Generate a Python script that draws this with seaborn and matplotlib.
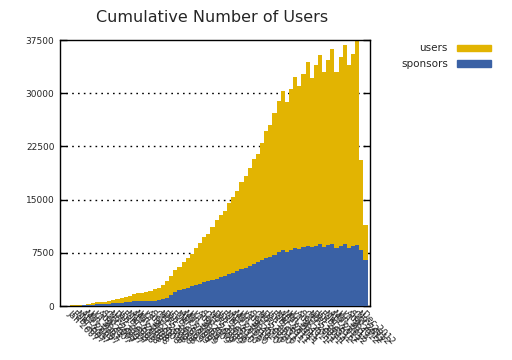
import matplotlib
matplotlib.use("Agg")
from matplotlib import pyplot as plt
from matplotlib.patches import Patch
import numpy as np
import pandas as pd
import seaborn as sns

# monthly tick labels (72 bars)
months = ['Jan', 'Feb', 'Mar', 'Apr', 'May', 'Jun',
          'Jul', 'Aug', 'Sep', 'Oct', 'Nov', 'Dec']
years = [2007, 2008, 2009, 2010, 2011, 2012]
labels = [f"{m} {y}" for y in years for m in months]

users = [141, 141, 141, 150, 280, 376, 517, 517, 517, 658,
         800, 940, 1081, 1222, 1363, 1645, 1786, 1786, 1927, 2068,
         2350, 2491, 2914, 3478, 4183, 5029, 5452, 6157, 6721, 7285,
         8131, 8836, 9682, 10105, 11092, 12079, 12784, 13348, 14476, 15322,
         16168, 17437, 18283, 19500, 20770, 21480, 22983, 24675, 25521, 27213,
         28905, 30315, 28764, 30597, 32289, 31020, 32712, 34404, 32148, 33981,
         35391, 32994, 34686, 36237, 32994, 35109, 36801, 33981, 35532, 37500,
         20586, 11374]

sponsors = [0, 0, 0, 150, 140, 94, 235, 235, 235, 235,
            376, 376, 376, 517, 517, 658, 658, 658, 658, 658,
            658, 800, 940, 1081, 1504, 1927, 2209, 2350, 2491, 2773,
            2914, 3055, 3337, 3478, 3619, 3760, 4042, 4183, 4465, 4606,
            4888, 5170, 5311, 5593, 5875, 6157, 6439, 6721, 6862, 7144,
            7567, 7849, 7567, 7849, 8131, 7990, 8272, 8413, 8272, 8413,
            8695, 8272, 8554, 8695, 8131, 8413, 8695, 8131, 8413, 8554,
            7849, 6439]

yticks = [0, 7500, 15000, 22500, 30000, 37500]

user_color = '#e2b402'
sponsor_color = '#3a61a5'

df = pd.DataFrame({'label': labels, 'users': users, 'sponsors': sponsors})

sns.set_style('white')
plt.rcParams['font.family'] = ['DejaVu Sans']

fig = plt.figure(figsize=(5.12, 3.6), dpi=100)
ax = fig.add_axes([60 / 512, 1 - 306 / 360, 310 / 512, 266 / 360])

# dotted grid behind the bars
for t in yticks[1:-1]:
    ax.axhline(t, color='black', linestyle=(0, (1.2, 3)), linewidth=1, zorder=0)

sns.barplot(data=df, x='label', y='users', color=user_color, width=1,
            saturation=1, linewidth=0, ax=ax, zorder=2)
sns.barplot(data=df, x='label', y='sponsors', color=sponsor_color, width=1,
            saturation=1, linewidth=0, ax=ax, zorder=3)

ax.set_xlim(-2.9, 72.1)
ax.set_ylim(0, 37500)
ax.set_yticks(yticks)
ax.set_yticklabels([str(t) for t in yticks], fontsize=6.5)
ax.tick_params(axis='y', direction='in', length=5, width=1, right=True,
               left=True, color='black', pad=4)
ax.tick_params(axis='x', length=0, pad=2)
ax.set_xticks(range(len(labels)))
ax.set_xticklabels(labels, rotation=-45, ha='left', va='top',
                   rotation_mode='anchor', fontsize=6.5)
ax.set_xlabel('')
ax.set_ylabel('')
for s in ax.spines.values():
    s.set_visible(True)
    s.set_color('black')
    s.set_linewidth(1)

fig.text(212 / 512, 1 - 18 / 360, 'Cumulative Number of Users', ha='center',
         va='center', fontsize=11.5)

handles = [Patch(color=user_color, label='users'),
           Patch(color=sponsor_color, label='sponsors')]
fig.legend(handles=handles, loc='upper right', bbox_to_anchor=(500 / 512, 1 - 34 / 360),
           frameon=False, markerfirst=False, fontsize=7.5, handlelength=3.2,
           handleheight=0.55, labelspacing=0.55, handletextpad=0.9)

fig.savefig('out.png', dpi=100)
